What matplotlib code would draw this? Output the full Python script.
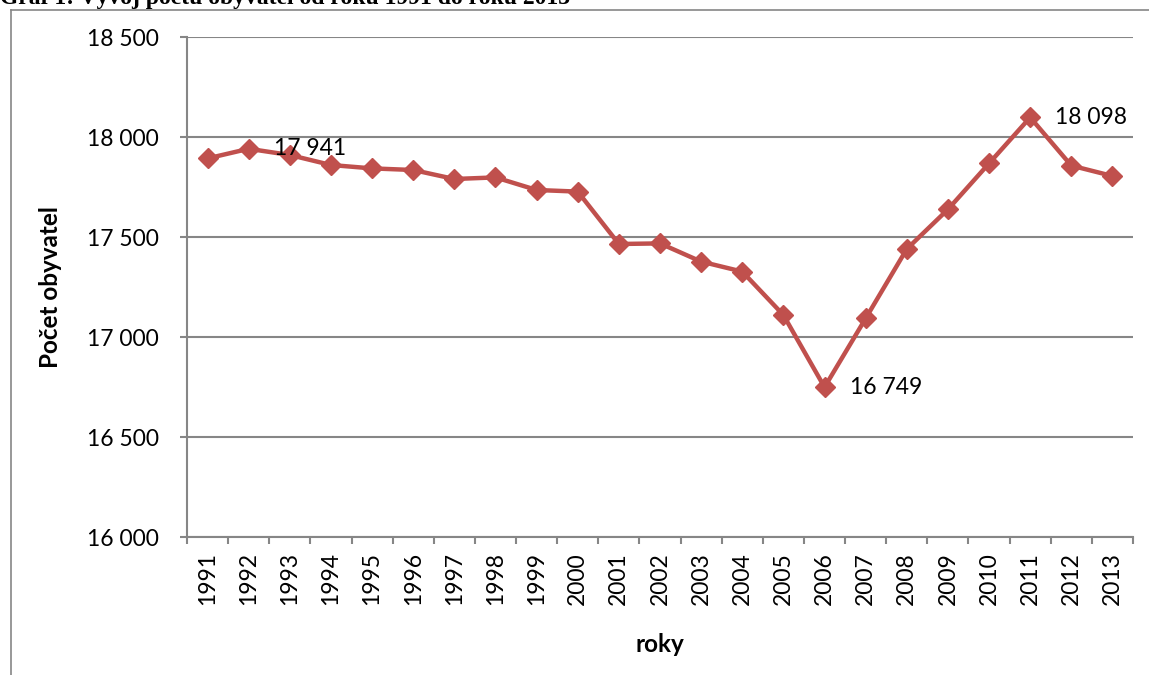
import matplotlib
matplotlib.use("Agg")
import matplotlib.pyplot as plt
from matplotlib.lines import Line2D
from matplotlib.ticker import FixedLocator, FuncFormatter

years = [str(y) for y in range(1991, 2014)]
population = [17893, 17941, 17910, 17860, 17843, 17835, 17790, 17798, 17735, 17727,
              17465, 17468, 17377, 17327, 17110, 16749, 17093, 17440, 17638, 17868,
              18098, 17857, 17805]
labelled_years = ["1992", "2006", "2011"]

title = "Graf 1: Vývoj počtu obyvatel od roku 1991 do roku 2013"
y_label = "Počet obyvatel"
x_label = "roky"

RED = "#C0504D"
GRID = "#868686"
FS = 16.5

plt.rcParams["font.family"] = ["Lato", "DejaVu Sans"]

fig = plt.figure(figsize=(11.49, 6.75), dpi=100)
ax = fig.add_axes([187 / 1149, 1 - 537 / 675, 946 / 1149, 500 / 675])

x = list(range(len(years)))
ax.plot(x, population, color=RED, lw=3.2, marker="D", markersize=10.5,
        markerfacecolor=RED, markeredgecolor=RED, zorder=3)

for name in labelled_years:
    i = years.index(name)
    v = population[i]
    ax.annotate(f"{v:,}".replace(",", " "), (i, v), xytext=(18, 0),
                textcoords="offset points", ha="left", va="center", fontsize=FS)

ax.set_ylim(16000, 18500)
ax.set_xlim(-0.5, len(years) - 0.5)
ax.set_yticks(range(16000, 18501, 500))
ax.yaxis.set_major_formatter(FuncFormatter(lambda v, p: f"{int(v):,}".replace(",", " ")))
ax.set_xticks(x)
ax.set_xticklabels(years, rotation=90)
ax.xaxis.set_minor_locator(FixedLocator([i - 0.5 for i in range(len(years) + 1)]))

ax.tick_params(axis="y", length=5, width=1.5, color=GRID, pad=15, labelsize=FS)
ax.tick_params(axis="x", which="major", length=0, pad=11, labelsize=FS)
ax.tick_params(axis="x", which="minor", length=5, width=1.5, color=GRID)

ax.grid(axis="y", color=GRID, lw=1.5)
ax.set_axisbelow(True)
for side in ["top", "right"]:
    ax.spines[side].set_visible(False)
for side in ["left", "bottom"]:
    ax.spines[side].set_color(GRID)
    ax.spines[side].set_linewidth(1.5)

ax.set_ylabel(y_label, fontsize=17.5, fontweight="bold")
ax.yaxis.set_label_coords(-0.132, 0.5)
ax.set_xlabel(x_label, fontsize=17.5, fontweight="bold")
ax.xaxis.set_label_coords(0.5, -0.192)

# chart-area frame and the clipped caption above it (cut off in the original too)
fig.add_artist(Line2D([10.5 / 1149, 10.5 / 1149], [0, 1 - 9.5 / 675],
                      color=GRID, lw=1.2, transform=fig.transFigure))
fig.add_artist(Line2D([10.5 / 1149, 1], [1 - 9.5 / 675, 1 - 9.5 / 675],
                      color=GRID, lw=1.2, transform=fig.transFigure))
fig.text(0.0, 1 - 4 / 675, title, ha="left", va="baseline", fontsize=17,
         fontweight="bold", family="Liberation Serif")

fig.savefig("out.png", dpi=100)
